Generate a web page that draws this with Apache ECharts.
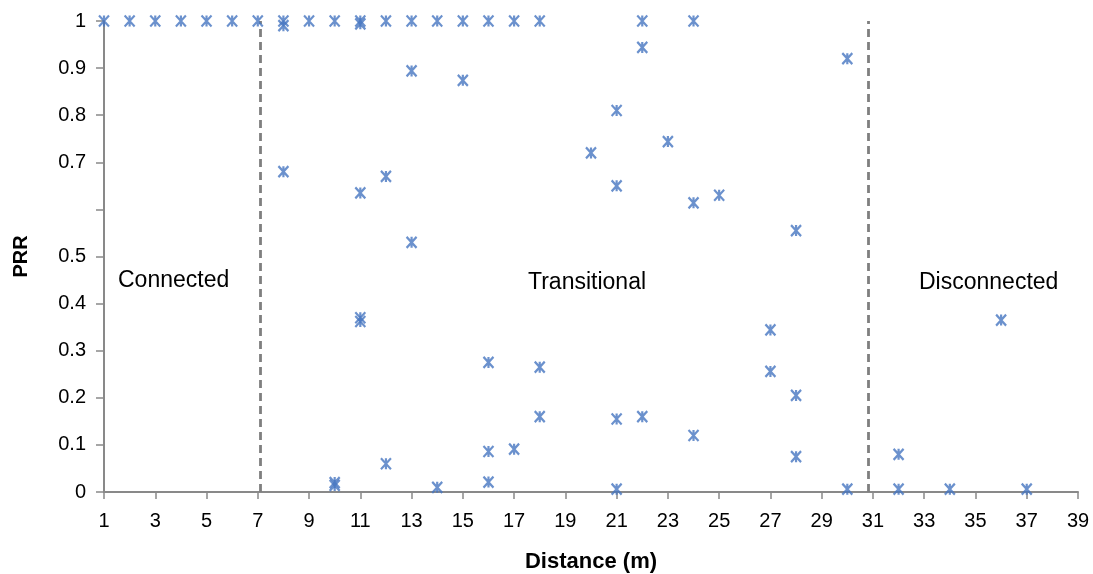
<!DOCTYPE html>
<html>
<head>
<meta charset="utf-8">
<script src="https://cdn.jsdelivr.net/npm/echarts@6/dist/echarts.min.js"></script>
<style>
  html, body { margin: 0; padding: 0; background: #fff; }
  #chart { width: 1093px; height: 574px; }
</style>
</head>
<body>
<div id="chart"></div>
<script>
// Link measurements: transmitter-receiver distance (m) and packet reception ratio
const distance = [
  1, 2, 3, 4, 5, 6, 7,
  8, 8, 8,
  9,
  10, 10, 10,
  11, 11, 11, 11, 11,
  12, 12, 12,
  13, 13, 13,
  14, 14,
  15, 15,
  16, 16, 16, 16,
  17, 17,
  18, 18, 18,
  20,
  21, 21, 21, 21,
  22, 22, 22,
  23,
  24, 24, 24,
  25,
  27, 27,
  28, 28, 28,
  30, 30,
  32, 32,
  34,
  36,
  37
];
const prr = [
  1, 1, 1, 1, 1, 1, 1,
  1, 0.99, 0.68,
  1,
  1, 0.02, 0.014,
  1, 0.994, 0.635, 0.37, 0.362,
  1, 0.67, 0.06,
  1, 0.894, 0.53,
  1, 0.01,
  1, 0.874,
  1, 0.275, 0.086, 0.021,
  1, 0.091,
  1, 0.265, 0.16,
  0.72,
  0.81, 0.65, 0.155, 0.006,
  1, 0.944, 0.16,
  0.744,
  1, 0.614, 0.12,
  0.63,
  0.344, 0.256,
  0.555, 0.205, 0.075,
  0.92, 0.006,
  0.08, 0.006,
  0.006,
  0.365,
  0.006
];

// Region boundaries (m) and region names
const boundaries = [7.1, 30.8];
const regions = ['Connected', 'Transitional', 'Disconnected'];

// Axis ticks
const xTicks = [1, 3, 5, 7, 9, 11, 13, 15, 17, 19, 21, 23, 25, 27, 29, 31, 33, 35, 37, 39];
const yTickLabels = ['0', '0.1', '0.2', '0.3', '0.4', '0.5', '', '0.7', '0.8', '0.9', '1'];

const FONT = "'Liberation Sans', Arial, sans-serif";
const BLUE = '#4676c0';
const AXIS_GREY = '#898989';

const points = distance.map((d, i) => [d, prr[i]]);

const chart = echarts.init(document.getElementById('chart'), null, { renderer: 'canvas' });

chart.setOption({
  animation: false,
  backgroundColor: '#ffffff',
  grid: { left: 104, right: 15, top: 21, bottom: 82, containLabel: false, outerBoundsMode: 'none' },
  xAxis: {
    type: 'value',
    min: 1,
    max: 39,
    name: 'Distance (m)',
    nameLocation: 'middle',
    nameGap: 59,
    nameTextStyle: { fontFamily: FONT, fontSize: 22, fontWeight: 'bold', color: '#000' },
    axisLine: { show: true, onZero: false, lineStyle: { color: AXIS_GREY, width: 2 } },
    axisTick: { show: true, inside: false, length: 7, customValues: xTicks, lineStyle: { color: AXIS_GREY, width: 1.5 } },
    axisLabel: { customValues: xTicks, margin: 19, fontFamily: FONT, fontSize: 20, color: '#000' },
    splitLine: { show: false }
  },
  yAxis: {
    type: 'value',
    min: 0,
    max: 1,
    interval: 0.1,
    name: 'PRR',
    nameLocation: 'middle',
    nameRotate: 90,
    nameGap: 73,
    nameTextStyle: { fontFamily: FONT, fontSize: 20, fontWeight: 'bold', color: '#000' },
    axisLine: { show: true, lineStyle: { color: AXIS_GREY, width: 2 } },
    axisTick: { show: true, inside: false, length: 8, lineStyle: { color: AXIS_GREY, width: 1.5 } },
    axisLabel: {
      margin: 18,
      fontFamily: FONT,
      fontSize: 20,
      color: '#000',
      formatter: (v) => yTickLabels[Math.round(v * 10)]
    },
    splitLine: { show: false }
  },
  series: [{
    type: 'scatter',
    data: points,
    // asterisk marker: diagonal cross with a vertical bar
    symbol: 'path://M0,0L10,10M10,0L0,10M5,0L5,10',
    symbolSize: [10, 11],
    itemStyle: { color: 'rgba(0,0,0,0)', borderColor: BLUE, borderWidth: 2.3 },
    z: 5,
    markLine: {
      silent: true,
      symbol: 'none',
      label: { show: false },
      lineStyle: { type: [8, 5], color: '#7f7f7f', width: 2.8 },
      data: boundaries.map((b) => ({ xAxis: b }))
    }
  }],
  graphic: [
    { type: 'text', left: 118, top: 269, style: { text: regions[0], font: `23px ${FONT}`, fill: '#000' } },
    { type: 'text', left: 528, top: 271, style: { text: regions[1], font: `23px ${FONT}`, fill: '#000' } },
    { type: 'text', left: 919, top: 271, style: { text: regions[2], font: `23px ${FONT}`, fill: '#000' } }
  ]
});
</script>
</body>
</html>
